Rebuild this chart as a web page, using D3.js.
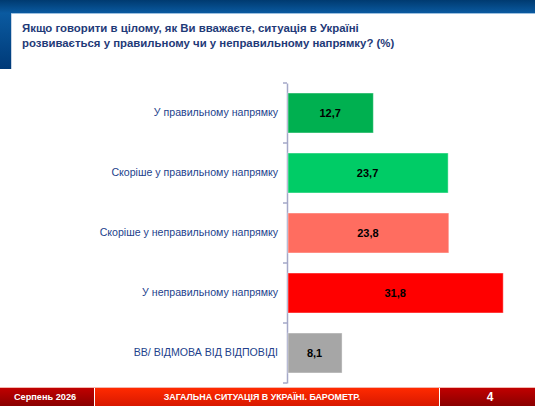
<!DOCTYPE html>
<html lang="uk">
<head>
  <meta charset="UTF-8">
  <title>Ситуація в Україні</title>
  <script src="https://d3js.org/d3.v7.min.js"></script>
  <style>
    body { margin: 0; background: #fff; }
    svg { display: block; font-family: "Liberation Sans", Arial, sans-serif; }
  </style>
</head>
<body>
<svg width="535" height="406"></svg>
<script>
  // Дані
  const categories = [
    "У правильному напрямку",
    "Скоріше у правильному напрямку",
    "Скоріше у неправильному напрямку",
    "У неправильному напрямку",
    "ВВ/ ВІДМОВА ВІД ВІДПОВІДІ"
  ];
  const values = [12.7, 23.7, 23.8, 31.8, 8.1];
  const barColors = ["#00b050", "#00cc66", "#ff6d60", "#ff0000", "#a6a6a6"];

  const W = 535, H = 406;
  const svg = d3.select("svg");
  const defs = svg.append("defs");

  // градієнти шапки та футера
  const gTop = defs.append("linearGradient").attr("id", "gTop")
          .attr("x1", 0).attr("y1", 0).attr("x2", 0).attr("y2", 1);
  gTop.append("stop").attr("offset", "0%").attr("stop-color", "#003a70");
  gTop.append("stop").attr("offset", "100%").attr("stop-color", "#0a5aa0");

  const gLeft = defs.append("linearGradient").attr("id", "gLeft")
          .attr("x1", 0).attr("y1", 0).attr("x2", 0).attr("y2", 1);
  gLeft.append("stop").attr("offset", "0%").attr("stop-color", "#0a5aa0");
  gLeft.append("stop").attr("offset", "100%").attr("stop-color", "#003a78");

  const gDark = defs.append("linearGradient").attr("id", "gDark")
          .attr("x1", 0).attr("y1", 0).attr("x2", 0).attr("y2", 1);
  gDark.append("stop").attr("offset", "0%").attr("stop-color", "#c00000");
  gDark.append("stop").attr("offset", "100%").attr("stop-color", "#8a0000");

  const gRed = defs.append("linearGradient").attr("id", "gRed")
          .attr("x1", 0).attr("y1", 0).attr("x2", 0).attr("y2", 1);
  gRed.append("stop").attr("offset", "0%").attr("stop-color", "#ff2a00");
  gRed.append("stop").attr("offset", "100%").attr("stop-color", "#d81800");

  // шапка
  svg.append("rect").attr("x", 0).attr("y", 0).attr("width", W).attr("height", 13)
          .attr("fill", "url(#gTop)");
  svg.append("rect").attr("x", 0).attr("y", 13).attr("width", W).attr("height", 1)
          .attr("fill", "#9cc0e0");
  svg.append("rect").attr("x", 0).attr("y", 13).attr("width", 11).attr("height", 56)
          .attr("fill", "url(#gLeft)");
  svg.append("rect").attr("x", 11).attr("y", 14).attr("width", 1).attr("height", 55)
          .attr("fill", "#c8d4e4");

  // заголовок
  const title = svg.append("text")
          .attr("x", 22)
          .attr("y", 32)
          .style("font-size", "11.4px")
          .style("font-weight", "bold")
          .attr("fill", "#1f3a78");
  title.append("tspan").attr("x", 22).text("Якщо говорити в цілому, як Ви вважаєте, ситуація в Україні");
  title.append("tspan").attr("x", 22).attr("dy", 14.5).text("розвивається у правильному чи у неправильному напрямку? (%)");

  // шкали
  const y = d3.scaleBand()
          .domain(categories)
          .range([83, 383])
          .paddingInner(1 / 3)
          .paddingOuter(1 / 6);

  const x = d3.scaleLinear()
          .domain([0, 35])
          .range([287, 525]);

  // вісь з підписами категорій
  const axis = svg.append("g")
          .attr("transform", "translate(287,0)")
          .call(d3.axisLeft(y).tickSize(0).tickPadding(9));
  axis.select(".domain").attr("stroke", "#a4a8c8").attr("stroke-width", 1.5);
  axis.selectAll("text")
          .style("font-size", "10.6px")
          .attr("fill", "#233f8c");

  // поділки між категоріями
  const step = y.step();
  const tickYs = categories.map(c => y(c) - step * y.paddingInner() / 2);
  tickYs.push(y(categories[categories.length - 1]) + y.bandwidth() + step * y.paddingInner() / 2);
  svg.selectAll(".cat-tick")
          .data(tickYs)
          .enter().append("line")
          .attr("class", "cat-tick")
          .attr("x1", 283).attr("x2", 287)
          .attr("y1", d => d).attr("y2", d => d)
          .attr("stroke", "#a4a8c8")
          .attr("stroke-width", 1.5);

  // стовпчики
  const data = categories.map((c, i) => ({ cat: c, v: values[i], color: barColors[i] }));

  svg.selectAll(".bar")
          .data(data)
          .enter().append("rect")
          .attr("class", "bar")
          .attr("x", x(0) + 1)
          .attr("y", d => y(d.cat))
          .attr("width", d => x(d.v) - x(0) - 1)
          .attr("height", y.bandwidth())
          .attr("fill", d => d.color)
          .attr("stroke", "rgba(255,255,255,0.45)")
          .attr("stroke-width", 1);

  svg.selectAll(".val")
          .data(data)
          .enter().append("text")
          .attr("class", "val")
          .attr("x", d => (x(0) + x(d.v)) / 2)
          .attr("y", d => y(d.cat) + y.bandwidth() / 2)
          .attr("dy", "0.35em")
          .attr("text-anchor", "middle")
          .style("font-size", "11px")
          .style("font-weight", "bold")
          .attr("fill", "#000")
          .text(d => d3.format(".1f")(d.v).replace(".", ","));

  // футер
  const fy = 388;
  svg.append("rect").attr("x", 0).attr("y", fy - 1).attr("width", W).attr("height", 1)
          .attr("fill", "#f4b8b0");
  svg.append("rect").attr("x", 0).attr("y", fy).attr("width", 94).attr("height", H - fy)
          .attr("fill", "url(#gDark)");
  svg.append("rect").attr("x", 95).attr("y", fy).attr("width", 344).attr("height", H - fy)
          .attr("fill", "url(#gRed)");
  svg.append("rect").attr("x", 440).attr("y", fy).attr("width", W - 440).attr("height", H - fy)
          .attr("fill", "url(#gDark)");

  const footer = [
    { x: 45, text: "Серпень 2026", size: "9.2px" },
    { x: 262, text: "ЗАГАЛЬНА СИТУАЦІЯ В УКРАЇНІ. БАРОМЕТР.", size: "8.9px" },
    { x: 490, text: "4", size: "12px" }
  ];
  svg.selectAll(".foot")
          .data(footer)
          .enter().append("text")
          .attr("class", "foot")
          .attr("x", d => d.x)
          .attr("y", 397)
          .attr("dy", "0.35em")
          .attr("text-anchor", "middle")
          .style("font-size", d => d.size)
          .style("font-weight", "bold")
          .attr("fill", "#fff")
          .text(d => d.text);
</script>
</body>
</html>
